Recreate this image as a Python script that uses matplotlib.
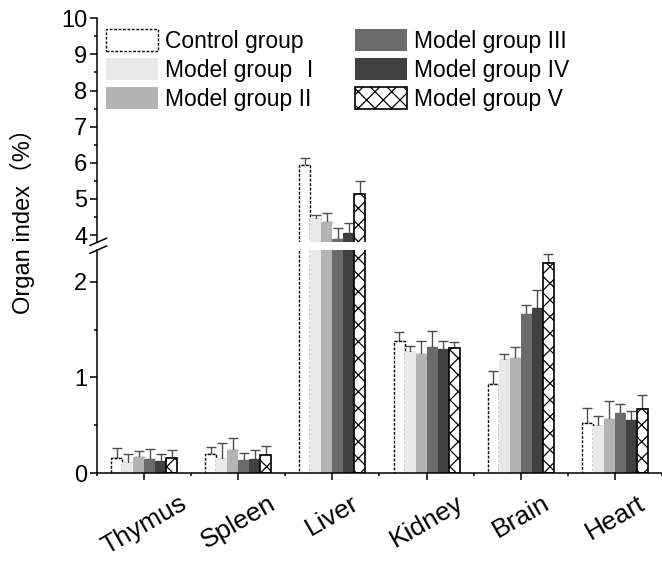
import matplotlib
matplotlib.use("Agg")
import matplotlib.pyplot as plt
import numpy as np
from matplotlib.lines import Line2D
from matplotlib.ticker import MultipleLocator
from matplotlib.font_manager import FontProperties

plt.rcParams['font.family'] = ['Liberation Sans', 'Noto Sans CJK SC']

organs = ["Thymus", "Spleen", "Liver", "Kidney", "Brain", "Heart"]
groups = ["Control group", "Model group \u2160", "Model group II",
          "Model group III", "Model group IV", "Model group V"]

control = [0.154, 0.202, 5.94, 1.382, 0.935, 0.527]
model1 = [0.100, 0.147, 4.44, 1.270, 1.183, 0.495]
model2 = [0.164, 0.244, 4.35, 1.249, 1.207, 0.565]
model3 = [0.147, 0.133, 3.90, 1.319, 1.668, 0.632]
model4 = [0.129, 0.143, 4.05, 1.295, 1.731, 0.552]
model5 = [0.160, 0.192, 5.13, 1.305, 2.196, 0.667]

control_err = [0.11, 0.074, 0.20, 0.094, 0.13, 0.157]
model1_err = [0.095, 0.17, 0.11, 0.063, 0.06, 0.105]
model2_err = [0.066, 0.126, 0.25, 0.13, 0.112, 0.185]
model3_err = [0.108, 0.073, 0.30, 0.168, 0.088, 0.087]
model4_err = [0.066, 0.10, 0.28, 0.09, 0.185, 0.10]
model5_err = [0.078, 0.094, 0.36, 0.063, 0.10, 0.147]

values = [control, model1, model2, model3, model4, model5]
errors = [control_err, model1_err, model2_err, model3_err, model4_err, model5_err]

plt.rcParams['hatch.linewidth'] = 0.9
styles = [
    dict(facecolor="white", edgecolor="black", linewidth=1.0, linestyle=(0, (2, 1.2))),
    dict(facecolor="#e9e9e9", edgecolor="none", linewidth=0),
    dict(facecolor="#b3b3b3", edgecolor="none", linewidth=0),
    dict(facecolor="#6b6b6b", edgecolor="none", linewidth=0),
    dict(facecolor="#404040", edgecolor="none", linewidth=0),
    dict(facecolor="white", edgecolor="black", linewidth=1.2, hatch="xx"),
]

W = 662.0
H = 562.0
fig = plt.figure(figsize=(W / 100, H / 100), dpi=100)
left = 97 / W
width = (W - 97) / W
ax_lo = fig.add_axes([left, (H - 473) / H, width, (473 - 250) / H])
ax_hi = fig.add_axes([left, (H - 241.7) / H, width, (241.7 - 18.3) / H])

x = np.arange(len(organs))
bw = 0.117
handles = []
for ax in (ax_lo, ax_hi):
    for j, (vals, errs, st) in enumerate(zip(values, errors, styles)):
        xpos = x + (j - 2.5) * bw
        ax.errorbar(xpos, vals, yerr=[np.zeros(len(errs)), errs], fmt="none",
                    ecolor="#4d4d4d", elinewidth=1.0, capsize=3.5, capthick=1.0,
                    zorder=1)
        b = ax.bar(xpos, vals, width=bw, zorder=2, label=groups[j], **st)
        if ax is ax_hi:
            handles.append(b)
    ax.set_xlim(-0.5, 5.5)
    ax.spines["top"].set_visible(False)
    ax.spines["right"].set_visible(False)
    ax.spines["left"].set_linewidth(1.1)
    ax.spines["bottom"].set_linewidth(1.1)
    ax.tick_params(axis="both", which="major", direction="out", length=5, width=1.1,
                   labelsize=17, pad=2)
    ax.tick_params(axis="both", which="minor", direction="out", length=2.5, width=1.1)
    ax.set_facecolor("none")

ax_lo.set_ylim(0, 2.335)
ax_lo.yaxis.set_major_locator(MultipleLocator(1))
ax_lo.yaxis.set_minor_locator(MultipleLocator(0.5))
ax_lo.set_xticks(x)
ax_lo.set_xticks(np.arange(-0.5, 6.0, 1.0), minor=True)
ax_lo.set_xticklabels(organs, rotation=30, ha="center", fontsize=19)
ax_lo.tick_params(axis="x", which="major", pad=8)

ax_hi.set_ylim(3.815, 10)
ax_hi.yaxis.set_major_locator(MultipleLocator(1))
ax_hi.yaxis.set_minor_locator(MultipleLocator(0.5))
ax_hi.spines["bottom"].set_visible(False)
ax_hi.set_xticks([])
ax_hi.set_xticks([], minor=True)

# break marks
for (x1, y1, x2, y2) in [(90, 245.5, 106.5, 238.3), (90, 253.3, 106.5, 246.0)]:
    fig.add_artist(Line2D([x1 / W, x2 / W], [1 - y1 / H, 1 - y2 / H],
                          transform=fig.transFigure, color="black", linewidth=1.1))

fig.text(22 / W, 1 - 215 / H, "Organ index\uff08%\uff09", rotation=90,
         ha="center", va="center", fontsize=17)

prop = FontProperties(family=['Liberation Sans', 'Noto Sans CJK SC'], size=16.5)
ax_hi.legend(handles=handles, labels=groups, ncol=2, loc="upper left",
             bbox_to_anchor=(106 / W, 1 - 29 / H), bbox_transform=fig.transFigure,
             frameon=False, prop=prop, borderpad=0, borderaxespad=0,
             handlelength=2.26, handleheight=1.09, labelspacing=0.24,
             handletextpad=0.33, columnspacing=1.45)

fig.savefig("out.png", dpi=100)
